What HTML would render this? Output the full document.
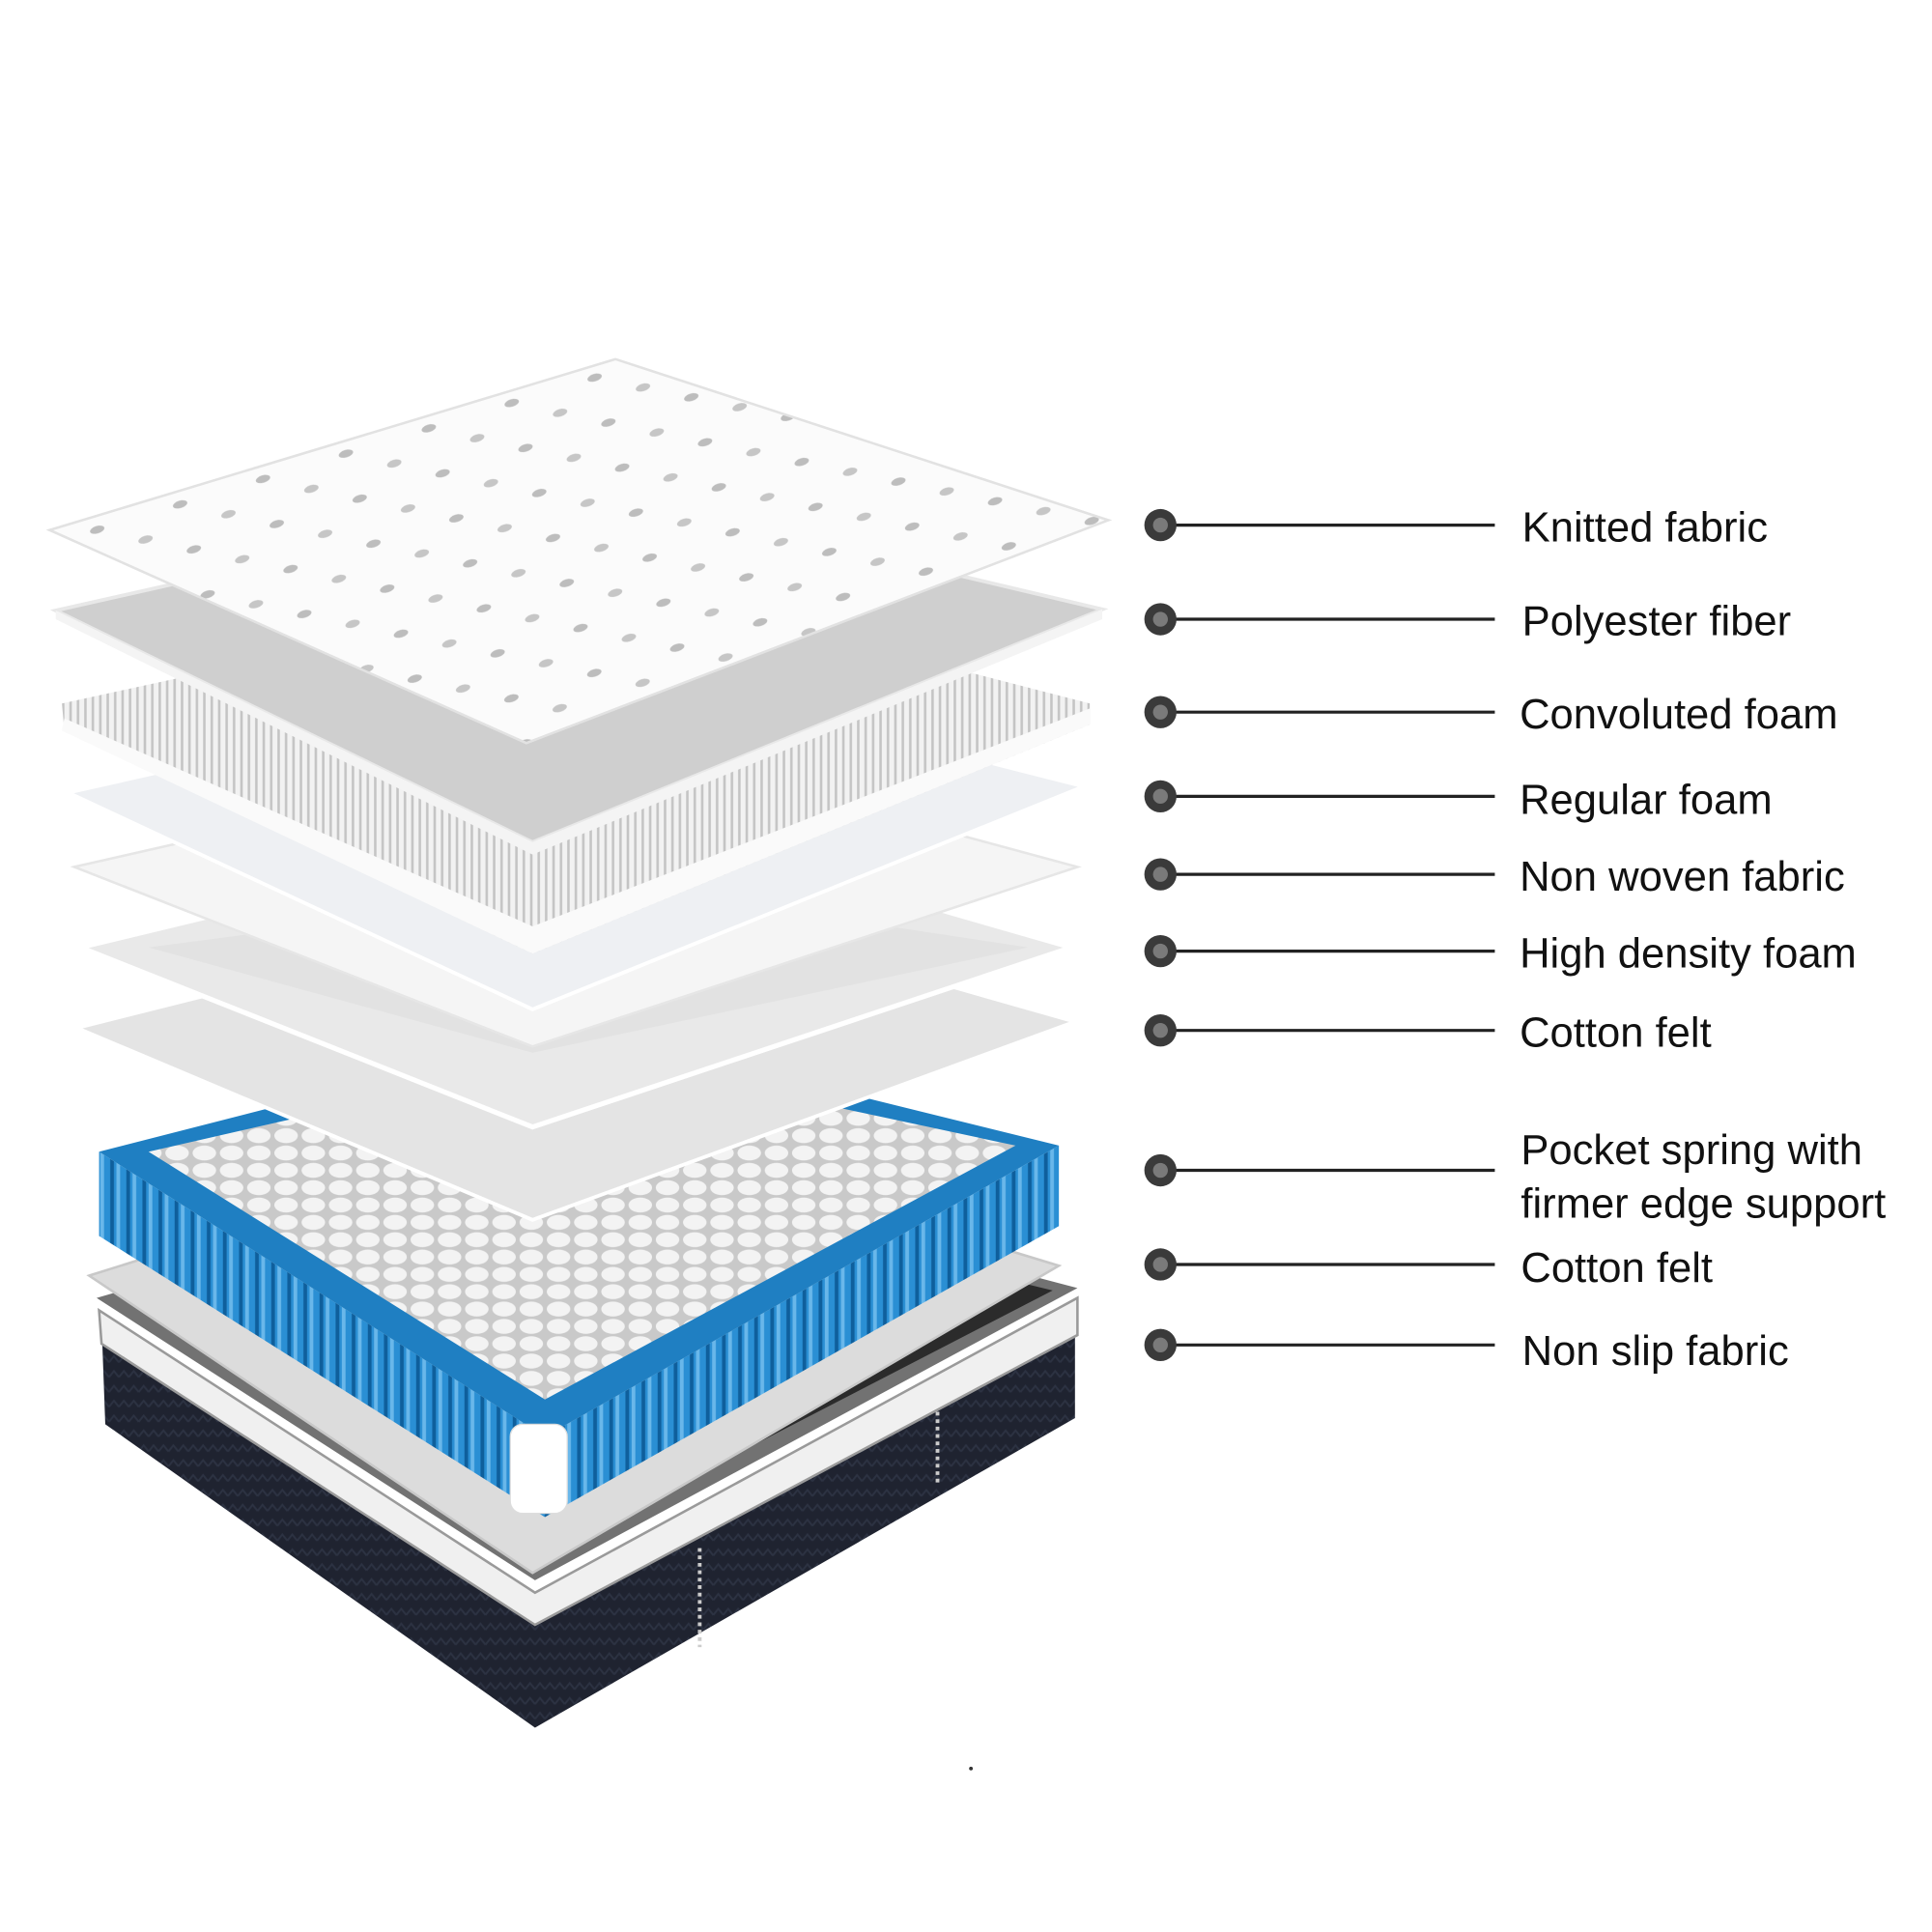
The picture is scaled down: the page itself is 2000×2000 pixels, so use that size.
<!DOCTYPE html>
<html><head><meta charset="utf-8"><style>
html,body{margin:0;padding:0;background:#fff;width:2000px;height:2000px;overflow:hidden}
svg{display:block}
text{font-family:"Liberation Sans",sans-serif;font-size:34px;fill:#111}
</style></head><body>
<svg width="2000" height="2000" viewBox="0 0 1560 1560" xmlns="http://www.w3.org/2000/svg">
<defs>
<pattern id="sp" width="22" height="14" patternUnits="userSpaceOnUse">
<rect width="22" height="14" fill="#c9c9c9"/>
<ellipse cx="11" cy="7" rx="9.5" ry="6" fill="#f3f3f3"/>
</pattern>
<pattern id="bl" width="13" height="60" patternUnits="userSpaceOnUse">
<rect width="13" height="60" fill="#0f5f9c"/>
<rect x="1" width="10" height="60" fill="#2a8fd4"/>
<rect x="3" width="3" height="60" fill="#69b7ea"/>
</pattern>
<pattern id="cv" width="6" height="10" patternUnits="userSpaceOnUse">
<rect width="6" height="10" fill="#f2f2f2"/>
<rect x="2" width="2" height="10" fill="#c4c4c4"/>
</pattern>
<pattern id="kn" width="70" height="38" patternUnits="userSpaceOnUse" patternTransform="rotate(-17)">
<rect width="70" height="38" fill="#fbfbfb"/>
<ellipse cx="20" cy="14" rx="6" ry="3" fill="#bdbdbd"/>
<ellipse cx="55" cy="33" rx="6" ry="3" fill="#c6c6c6"/>
</pattern>
<pattern id="kw" width="8" height="12" patternUnits="userSpaceOnUse">
<rect width="8" height="12" fill="#1f2330"/>
<path d="M0 8 L4 3 L8 8" stroke="#2c3242" stroke-width="1.5" fill="none"/>
</pattern>
</defs>

<!-- base -->
<polygon points="82,1068 432,1300 868,1060 868,1145 432,1395 85,1150" fill="url(#kw)"/>
<polygon points="80,1058 432,1286 870,1048 870,1078 432,1312 82,1085" fill="#f0f0f0" stroke="#9a9a9a" stroke-width="2"/>
<polygon points="78,1048 470,935 870,1040 432,1276" fill="#727272"/>
<polygon points="100,1050 470,950 850,1042 432,1258" fill="#2b2b2b"/>
<polygon points="760,1060 432,1258 120,1060 300,1010 500,1000" fill="#6a6a6a" opacity="0.5"/>
<line x1="757" y1="1140" x2="757" y2="1200" stroke="#ccc" stroke-width="3" stroke-dasharray="3 3"/>
<line x1="565" y1="1250" x2="565" y2="1330" stroke="#ccc" stroke-width="3" stroke-dasharray="3 3"/>

<!-- cotton felt 2 -->
<polygon points="72,1030 470,905 855,1022 430,1270" fill="#dcdcdc" stroke="#c8c8c8" stroke-width="2"/>

<!-- springs -->
<polygon points="80,930 440,1160 855,925 855,990 440,1225 80,998" fill="url(#bl)"/>
<polygon points="80,930 470,830 855,925 440,1160" fill="#1f7fc2"/>
<polygon points="120,930 470,850 820,925 440,1130" fill="url(#sp)"/>
<rect x="412" y="1150" width="46" height="72" rx="10" fill="#fff" stroke="#ddd"/>

<!-- cotton felt 1 -->
<polygon points="62,830 500,720 868,825 430,985" fill="#e4e4e4" stroke="#fff" stroke-width="3"/>
<!-- high density -->
<polygon points="65,765 500,660 865,765 430,910" fill="#e9e9e9" stroke="#fff" stroke-width="4"/>
<polygon points="120,765 500,715 830,765 430,850" fill="#dedede" opacity=".7"/>
<!-- non woven -->
<polygon points="60,700 500,600 870,700 430,845" fill="#f5f5f5" stroke="#e6e6e6" stroke-width="2"/>
<!-- regular foam -->
<polygon points="55,640 500,540 875,635 430,815" fill="#eef0f3" stroke="#fff" stroke-width="3"/>
<!-- convoluted -->
<polygon points="50,568 500,470 880,568 880,585 430,770 52,590" fill="url(#cv)"/>
<polygon points="50,590 430,770 880,585 880,572 430,748 52,580" fill="#fafafa"/>
<!-- polyester -->
<polygon points="45,493 480,395 890,492 430,680" fill="#cfcfcf" stroke="#e8e8e8" stroke-width="3"/>
<polygon points="45,493 430,680 890,492 890,500 430,690 45,500" fill="#f4f4f4"/>
<!-- knitted -->
<polygon points="40,428 497,290 895,420 425,600" fill="url(#kn)" stroke="#e2e2e2" stroke-width="2"/>
<circle cx="784" cy="1428" r="1.5" fill="#333"/>

<!-- labels -->
<g stroke="#222" stroke-width="2.5">
<line x1="945" y1="424" x2="1207" y2="424"/>
<line x1="945" y1="500" x2="1207" y2="500"/>
<line x1="945" y1="575" x2="1207" y2="575"/>
<line x1="945" y1="643" x2="1207" y2="643"/>
<line x1="945" y1="706" x2="1207" y2="706"/>
<line x1="945" y1="768" x2="1207" y2="768"/>
<line x1="945" y1="832" x2="1207" y2="832"/>
<line x1="945" y1="945" x2="1207" y2="945"/>
<line x1="945" y1="1021" x2="1207" y2="1021"/>
<line x1="945" y1="1086" x2="1207" y2="1086"/>
</g>
<g fill="#3a3a3a">
<circle cx="937" cy="424" r="13"/><circle cx="937" cy="500" r="13"/><circle cx="937" cy="575" r="13"/>
<circle cx="937" cy="643" r="13"/><circle cx="937" cy="706" r="13"/><circle cx="937" cy="768" r="13"/>
<circle cx="937" cy="832" r="13"/><circle cx="937" cy="945" r="13"/><circle cx="937" cy="1021" r="13"/>
<circle cx="937" cy="1086" r="13"/>
</g>
<g fill="#7a7a7a">
<circle cx="937" cy="424" r="6"/><circle cx="937" cy="500" r="6"/><circle cx="937" cy="575" r="6"/>
<circle cx="937" cy="643" r="6"/><circle cx="937" cy="706" r="6"/><circle cx="937" cy="768" r="6"/>
<circle cx="937" cy="832" r="6"/><circle cx="937" cy="945" r="6"/><circle cx="937" cy="1021" r="6"/>
<circle cx="937" cy="1086" r="6"/>
</g>
<text x="1229" y="437">Knitted fabric</text>
<text x="1229" y="513">Polyester fiber</text>
<text x="1227" y="588">Convoluted foam</text>
<text x="1227" y="657">Regular foam</text>
<text x="1227" y="719">Non woven fabric</text>
<text x="1227" y="781">High density foam</text>
<text x="1227" y="845">Cotton felt</text>
<text x="1228" y="940">Pocket spring with</text>
<text x="1228" y="983">firmer edge support</text>
<text x="1228" y="1035">Cotton felt</text>
<text x="1229" y="1102">Non slip fabric</text>
</svg>
</body></html>
